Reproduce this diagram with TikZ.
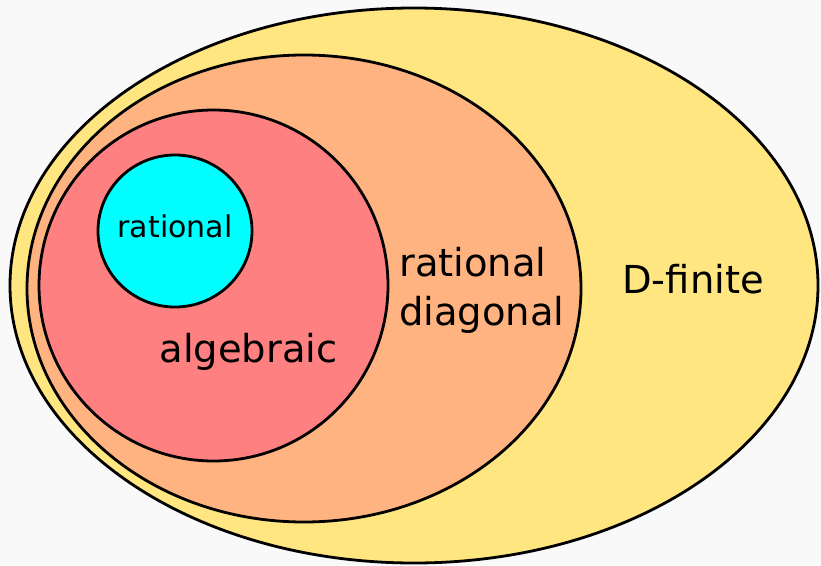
\documentclass[tikz,border=0pt]{standalone}
\usepackage{fontspec}
\setmainfont{DejaVu Sans}
\usetikzlibrary{shapes.geometric}
\definecolor{bg}{HTML}{F9F9F9}
\definecolor{dfin}{HTML}{FFE680}
\definecolor{rdiag}{HTML}{FFB380}
\definecolor{alg}{HTML}{FF8080}
\definecolor{rat}{HTML}{00FFFF}
\begin{document}
\begin{tikzpicture}[x=1pt,y=-1pt,
  region/.style={ellipse,draw=black,line width=2.8pt,inner sep=0pt},
  big/.style={font=\fontsize{38.5}{49}\selectfont,inner sep=0pt},
  small/.style={font=\fontsize{30}{36}\selectfont,inner sep=0pt}]
\fill[bg] (0,0) rectangle (821,565);
\useasboundingbox (0,0) rectangle (821,565);
\node[region,fill=dfin,minimum width=808pt,minimum height=555pt] (dfinite) at (414,285.5) {};
\node[region,fill=rdiag,minimum width=554pt,minimum height=467pt] (ratdiag) at (304,288.5) {};
\node[region,fill=alg,minimum width=349pt,minimum height=351pt] (algebraic) at (213.5,285.5) {};
\node[region,fill=rat,minimum width=154pt,minimum height=152pt] (rational) at (175,231) {};
\node[small,anchor=base] (tr) at (175,237) {rational};
\node[big,anchor=base] (ta) at (248.5,362) {algebraic};
\node[big,anchor=base west,align=left] (td) at (399,325) {rational\\diagonal};
\node[big,anchor=base west] (tf) at (622,293) {D-finite};
\end{tikzpicture}
\end{document}
